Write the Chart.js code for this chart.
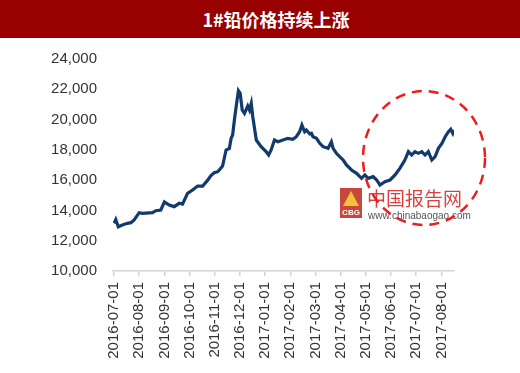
<!DOCTYPE html>
<html>
<head>
<meta charset="utf-8">
<script src="https://cdn.jsdelivr.net/npm/chart.js@4/dist/chart.umd.min.js"></script>
<style>
  html, body { margin: 0; padding: 0; background: #fff; }
  #wrap { position: relative; width: 520px; height: 373px; }
  #title {
    position: absolute; left: 0; top: 0; width: 520px; height: 38px;
    background: #990000; color: #fff;
    font: bold 18px "Noto Sans CJK SC", sans-serif;
    line-height: 38px; text-align: center; box-sizing: border-box; padding-left: 32px;
  }
  canvas { position: absolute; left: 0; top: 0; }
</style>
</head>
<body>
<div id="wrap">
  <canvas id="chart" width="520" height="373"></canvas>
  <div id="title">1#铅价格持续上涨</div>
</div>
<script>
// 月份刻度标签
const monthLabels = ['2016-07-01', '2016-08-01', '2016-09-01', '2016-10-01', '2016-11-01', '2016-12-01',
  '2017-01-01', '2017-02-01', '2017-03-01', '2017-04-01', '2017-05-01', '2017-06-01', '2017-07-01', '2017-08-01'];

// 采样点位置（从2016-07-01起的月数）
const monthPos = [0.00, 0.07, 0.17, 0.33, 0.53, 0.67, 0.80, 1.00, 1.12, 1.53, 1.66, 1.86, 2.00, 2.19, 2.39,
  2.59, 2.72, 2.92, 3.12, 3.32, 3.52, 3.72, 3.85, 3.98, 4.12, 4.18, 4.31, 4.45, 4.58, 4.65, 4.71, 4.78,
  4.85, 4.94, 5.01, 5.09, 5.18, 5.31, 5.38, 5.45, 5.51, 5.65, 5.84, 6.04, 6.14, 6.24, 6.37, 6.51, 6.71,
  6.90, 7.10, 7.24, 7.37, 7.46, 7.57, 7.64, 7.77, 7.84, 7.90, 8.04, 8.17, 8.30, 8.50, 8.63, 8.70, 8.83,
  8.96, 9.10, 9.23, 9.43, 9.63, 9.83, 9.96, 10.09, 10.29, 10.43, 10.56, 10.76, 10.96, 11.16, 11.35,
  11.55, 11.69, 11.82, 11.95, 12.08, 12.22, 12.35, 12.48, 12.62, 12.75, 12.88, 13.02, 13.15, 13.28,
  13.37, 13.45, 13.50];

// 1#铅价格（元/吨）
const leadPrice = [13150, 13400, 12920, 13040, 13150, 13190, 13370, 13850, 13810, 13850, 13980, 14030, 14570, 14360, 14250,
  14470, 14420, 15130, 15350, 15610, 15610, 16000, 16300, 16490, 16560, 16670, 16930, 17990, 18100, 18760, 18980, 19970,
  20850, 21910, 21730, 20630, 20410, 20900, 20630, 21070, 20190, 18650, 18210, 17880, 17660, 17990, 18650, 18540, 18650,
  18760, 18700, 18870, 19200, 19640, 19200, 19310, 19050, 19090, 18870, 18760, 18430, 18210, 18100, 18540, 18100, 17770,
  17550, 17330, 17000, 16670, 16450, 16120, 16340, 16120, 16230, 16010, 15680, 15900, 16010, 16340, 16780,
  17330, 17880, 17660, 17880, 17770, 17880, 17660, 17880, 17330, 17550, 18100, 18430, 18870, 19200,
  19360, 19090, 19310];

const yTicks = [10000, 12000, 14000, 16000, 18000, 20000, 22000, 24000];

// 虚线圈和水印
const overlayPlugin = {
  id: 'overlay',
  afterDatasetsDraw(chart) {
    const ctx = chart.ctx;
    ctx.save();
    // 水印 logo
    ctx.fillStyle = '#c8463c';
    ctx.fillRect(340, 188, 22, 30);
    ctx.fillStyle = '#f3c23a';
    ctx.beginPath();
    ctx.moveTo(343, 206); ctx.lineTo(351, 191); ctx.lineTo(359, 206); ctx.closePath();
    ctx.fill();
    ctx.fillStyle = '#fff';
    ctx.font = 'bold 8px "Liberation Sans", Arial, sans-serif';
    ctx.textAlign = 'center';
    ctx.textBaseline = 'middle';
    ctx.fillText('CBG', 351, 213);
    // 水印文字
    ctx.textAlign = 'left';
    ctx.textBaseline = 'alphabetic';
    ctx.fillStyle = 'rgba(214, 30, 28, 0.85)';
    ctx.font = '19px "Noto Sans CJK SC", sans-serif';
    ctx.fillText('中国报告网', 367, 206);
    ctx.fillStyle = '#555';
    ctx.font = '10px "Liberation Sans", Arial, sans-serif';
    ctx.fillText('www.chinabaogao.com', 368, 219);
    // 红色虚线圈
    ctx.strokeStyle = '#ee1c1c';
    ctx.lineWidth = 2.5;
    ctx.setLineDash([10, 7]);
    ctx.beginPath();
    ctx.ellipse(424, 158, 61, 67, 0, 0, Math.PI * 2);
    ctx.stroke();
    ctx.restore();
  }
};

new Chart(document.getElementById('chart'), {
  type: 'line',
  data: {
    datasets: [{
      data: monthPos.map((m, i) => ({ x: m, y: leadPrice[i] })),
      borderColor: '#123a6c',
      borderWidth: 3.2,
      pointRadius: 0,
      tension: 0,
      fill: false
    }]
  },
  options: {
    responsive: false,
    animation: false,
    layout: { padding: { top: 59, right: 66, bottom: 0, left: 0 } },
    plugins: { legend: { display: false }, tooltip: { enabled: false } },
    scales: {
      x: {
        type: 'linear',
        min: -0.04,
        max: 13.5,
        afterFit(scale) { scale.height = 102; },
        afterBuildTicks(scale) {
          scale.ticks = monthLabels.map((_, i) => ({ value: i }));
        },
        border: { display: true, color: '#d4d4d4', width: 1.5 },
        grid: { display: true, drawOnChartArea: false, drawTicks: true, tickLength: 5, color: '#d4d4d4', lineWidth: 1.5 },
        ticks: {
          autoSkip: false,
          maxRotation: 90,
          minRotation: 90,
          padding: 6,
          color: '#333',
          font: { family: '"Liberation Sans", Arial, sans-serif', size: 15 },
          callback: (v) => monthLabels[v]
        }
      },
      y: {
        min: 10000,
        max: 24000,
        afterFit(scale) { scale.width = 113; },
        afterBuildTicks(scale) {
          scale.ticks = yTicks.map(v => ({ value: v }));
        },
        border: { display: false },
        grid: { display: false, drawTicks: false },
        ticks: {
          padding: 16,
          color: '#333',
          font: { family: '"Liberation Sans", Arial, sans-serif', size: 15 },
          callback: (v) => v.toLocaleString('en-US')
        }
      }
    }
  },
  plugins: [overlayPlugin]
});
</script>
</body>
</html>
